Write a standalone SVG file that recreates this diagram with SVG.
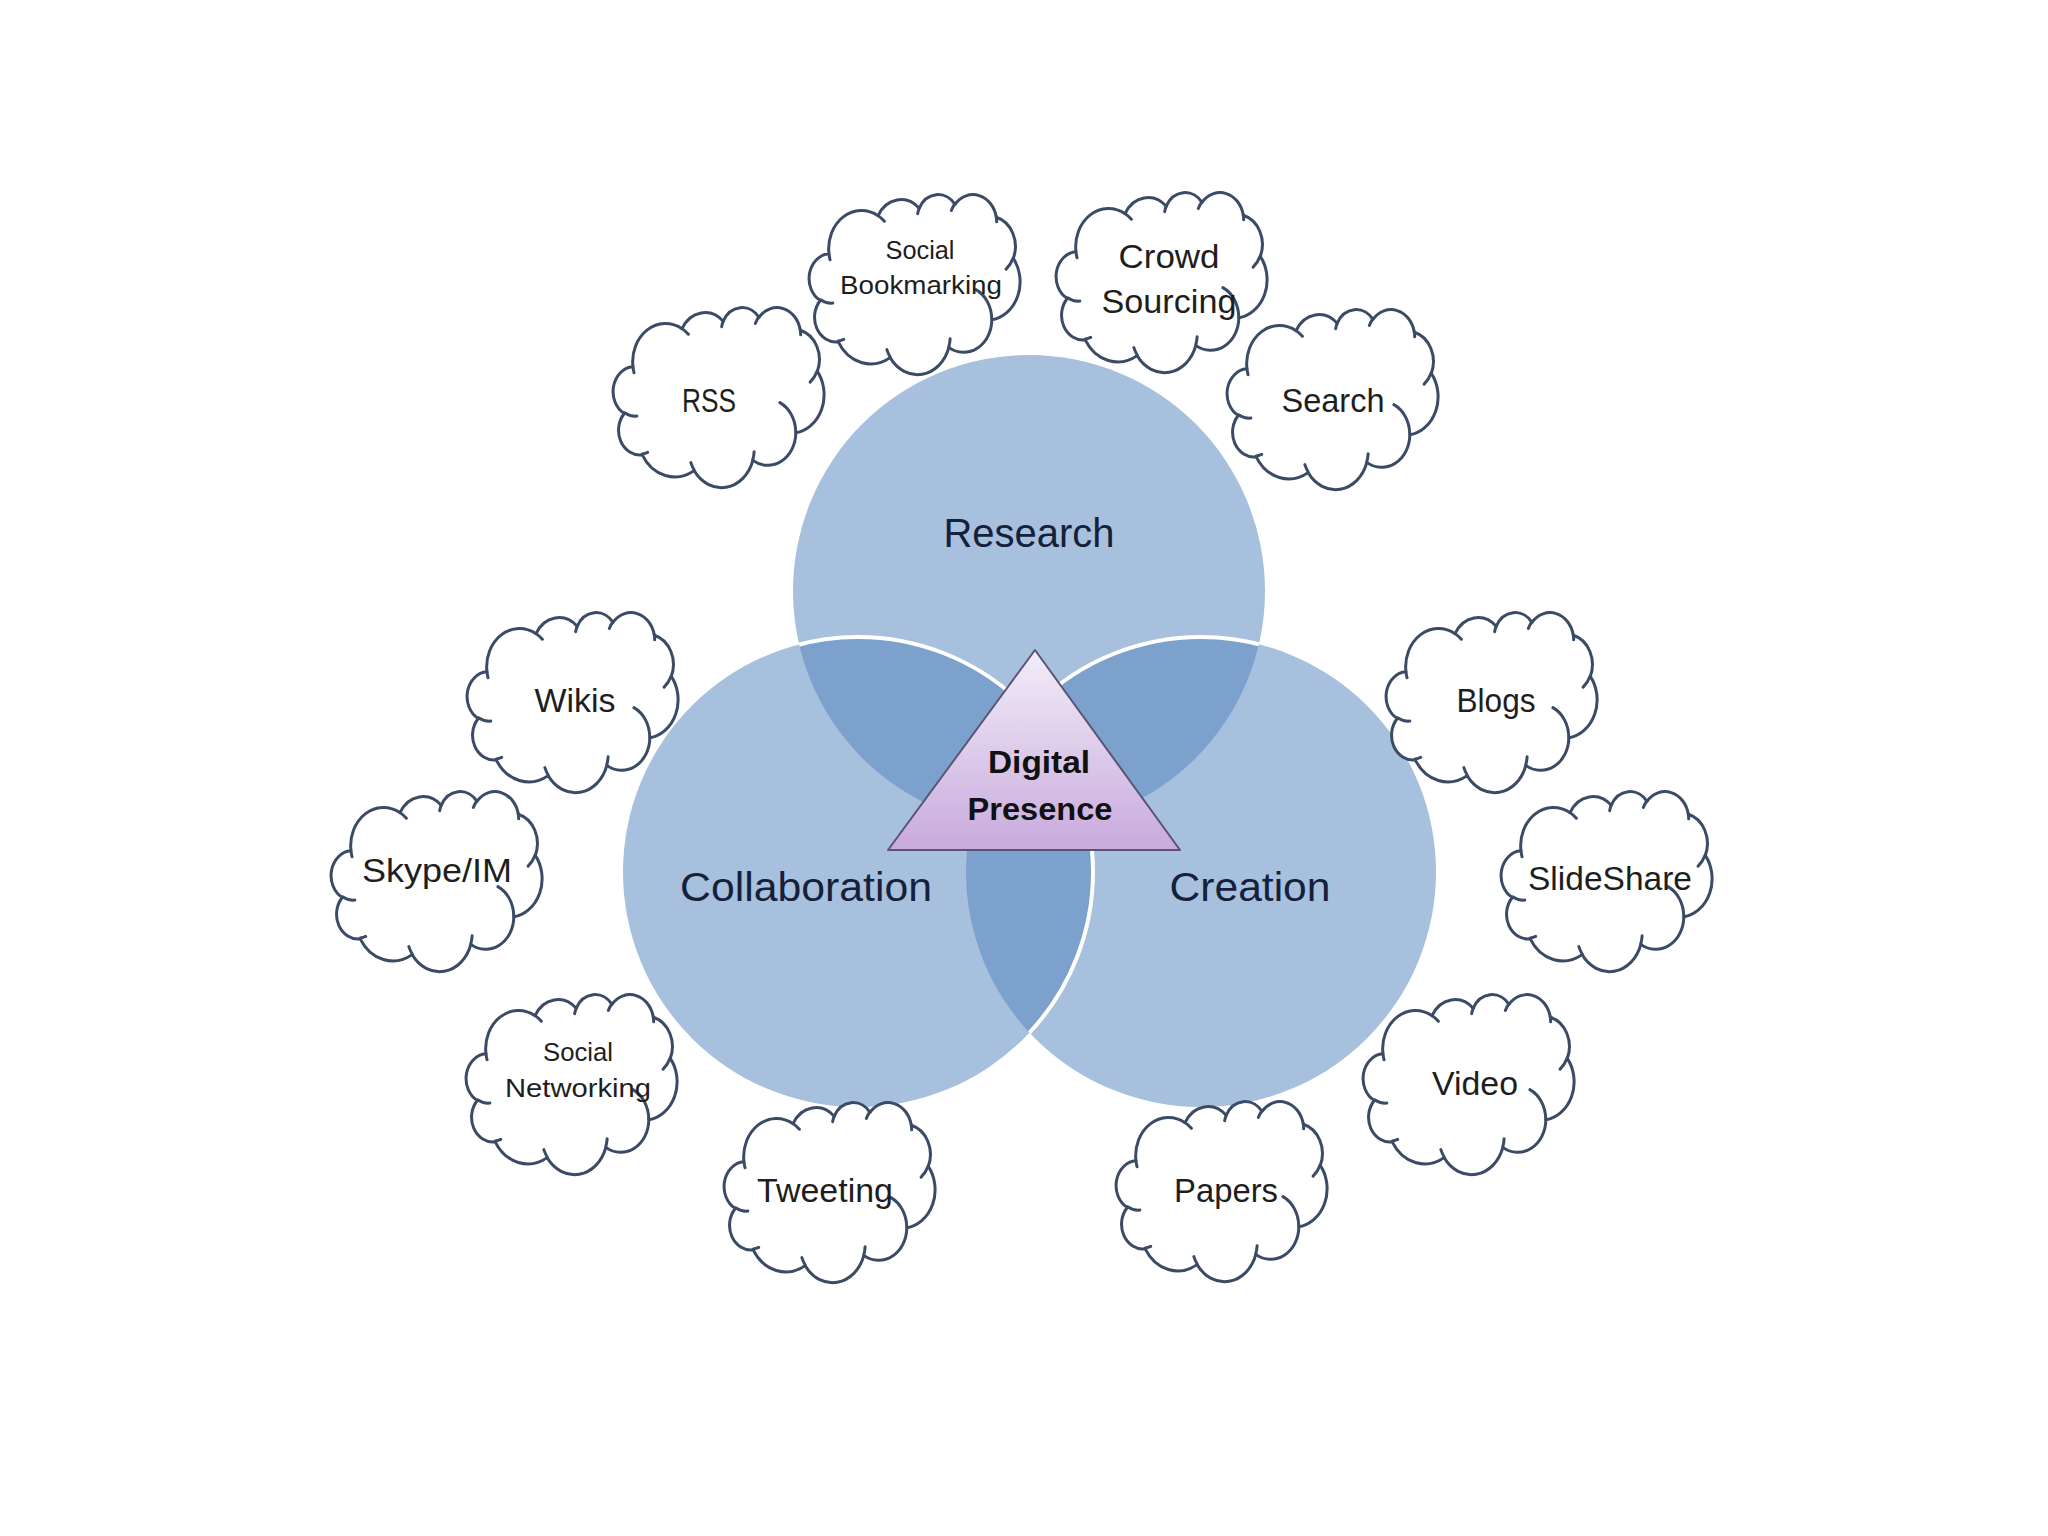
<svg xmlns="http://www.w3.org/2000/svg" xmlns:xlink="http://www.w3.org/1999/xlink" width="2048" height="1536" viewBox="0 0 2048 1536">
  <style>
    .circ { fill: #A7C0DE; }
    .lens { fill: #7DA1CD; }
    .edge { fill: none; stroke: #FFFFFF; stroke-width: 4; }
    .cloud { fill: #FFFFFF; stroke: #3B4B66; stroke-width: 3; stroke-linejoin: round; }
    .hook { fill: none; stroke: #3B4B66; stroke-width: 3; stroke-linecap: round; }
    .big { font-family: "Liberation Sans", Arial, sans-serif; font-size: 40px; fill: #15213A; text-anchor: middle; }
    .lbl { font-family: "Liberation Sans", Arial, sans-serif; font-size: 33px; fill: #1E1E1E; text-anchor: middle; }
    .sml { font-family: "Liberation Sans", Arial, sans-serif; font-size: 26px; fill: #1E1E1E; text-anchor: middle; }
    .core { font-family: "Liberation Sans", Arial, sans-serif; font-size: 32px; font-weight: bold; fill: #111111; text-anchor: middle; }
  </style>
  <defs>
    <linearGradient id="triGrad" x1="0" y1="0" x2="0" y2="1">
      <stop offset="0" stop-color="#F3EDF8"/>
      <stop offset="1" stop-color="#C8AADD"/>
    </linearGradient>
    <clipPath id="clipResearch"><circle cx="1029" cy="591" r="236"/></clipPath>
    <clipPath id="clipCollab"><circle cx="858" cy="872" r="235"/></clipPath>
    <clipPath id="clipCreation"><circle cx="1201" cy="872" r="235"/></clipPath>
    <path id="cloudShape" class="cloud" d="M-86.04,-30.13 A32.83,38.29 0 0 1 -36.92,-68.32 A25.92,30.28 0 0 1 4.16,-75.69 A21.22,24.77 0 0 1 40.03,-79.66 A23.61,27.48 0 0 1 81.28,-66.76 A25.92,30.30 0 0 1 98.29,-25.58 A32.93,38.42 0 0 1 76.83,35.85 A28.12,32.78 0 0 1 33.82,63.39 A32.82,38.40 0 0 1 -24.88,73.61 A37.53,43.93 0 0 1 -76.78,57.80 A21.19,24.66 0 0 1 -94.73,16.46 A21.12,24.77 0 0 1 -86.04,-30.13 Z"/>
    <path id="cloudHooks" class="hook" d="M-82.19,19.07 A21.12,24.77 0 0 1 -94.50,15.75 M-71.32,55.41 A21.19,24.66 0 0 1 -76.71,57.00 M-24.90,72.88 A32.82,38.40 0 0 1 -28.15,65.62 M35.13,54.80 A32.82,38.40 0 0 1 33.83,62.75 M60.90,5.64 A28.12,32.78 0 0 1 76.71,35.37 M98.18,-26.02 A25.92,30.30 0 0 1 91.14,-14.87 M81.29,-67.39 A23.61,27.48 0 0 1 81.67,-62.13 M36.35,-73.53 A23.61,27.48 0 0 1 39.96,-80.25 M2.63,-70.33 A21.22,24.77 0 0 1 4.37,-76.12 M-36.94,-68.37 A32.83,38.29 0 0 1 -30.63,-62.75 M-84.94,-24.21 A32.83,38.29 0 0 1 -86.04,-30.13"/>
    <g id="cloud">
      <use xlink:href="#cloudShape" href="#cloudShape"/>
      <use xlink:href="#cloudHooks" href="#cloudHooks"/>
    </g>
  </defs>

  <rect x="0" y="0" width="2048" height="1536" fill="#FFFFFF"/>

  <g id="venn">
    <circle id="research-circle" class="circ" cx="1029" cy="591" r="236"/>
    <circle id="collaboration-circle" class="circ" cx="858" cy="872" r="235"/>
    <circle id="creation-circle" class="circ" cx="1201" cy="872" r="235"/>
    <circle class="lens" cx="858" cy="872" r="235" clip-path="url(#clipResearch)"/>
    <circle class="lens" cx="1201" cy="872" r="235" clip-path="url(#clipResearch)"/>
    <circle class="lens" cx="1201" cy="872" r="235" clip-path="url(#clipCollab)"/>
    <circle class="edge" cx="858" cy="872" r="235" clip-path="url(#clipResearch)"/>
    <circle class="edge" cx="1201" cy="872" r="235" clip-path="url(#clipResearch)"/>
    <circle class="edge" cx="858" cy="872" r="235" clip-path="url(#clipCreation)"/>
  </g>

  <g id="node-research"><text class="big" x="1029" y="547" textLength="171" lengthAdjust="spacingAndGlyphs">Research</text></g>
  <g id="node-collaboration"><text class="big" x="806" y="901" textLength="252" lengthAdjust="spacingAndGlyphs">Collaboration</text></g>
  <g id="node-creation"><text class="big" x="1250" y="901" textLength="161" lengthAdjust="spacingAndGlyphs">Creation</text></g>

  <g id="node-digital-presence">
    <polygon points="1035,650 888,850 1180,850" fill="url(#triGrad)" stroke="#5B5475" stroke-width="2" stroke-linejoin="round"/>
    <text class="core" x="1039" y="773" textLength="102" lengthAdjust="spacingAndGlyphs">Digital</text>
    <text class="core" x="1040" y="820" textLength="145" lengthAdjust="spacingAndGlyphs">Presence</text>
  </g>

  <g id="connectors"></g>

  <g id="node-social-bookmarking">
    <use xlink:href="#cloud" href="#cloud" transform="translate(915,284)"/>
    <text class="sml" x="920" y="259" textLength="69" lengthAdjust="spacingAndGlyphs">Social</text>
    <text class="sml" x="921" y="294" textLength="162" lengthAdjust="spacingAndGlyphs">Bookmarking</text>
  </g>
  <g id="node-crowd-sourcing">
    <use xlink:href="#cloud" href="#cloud" transform="translate(1162,282)"/>
    <text class="lbl" x="1169" y="268" textLength="101" lengthAdjust="spacingAndGlyphs">Crowd</text>
    <text class="lbl" x="1169" y="313" textLength="135" lengthAdjust="spacingAndGlyphs">Sourcing</text>
  </g>
  <g id="node-rss">
    <use xlink:href="#cloud" href="#cloud" transform="translate(719,397)"/>
    <text class="lbl" x="709" y="412" textLength="54" lengthAdjust="spacingAndGlyphs">RSS</text>
  </g>
  <g id="node-search">
    <use xlink:href="#cloud" href="#cloud" transform="translate(1333,399)"/>
    <text class="lbl" x="1333" y="412" textLength="103" lengthAdjust="spacingAndGlyphs">Search</text>
  </g>
  <g id="node-wikis">
    <use xlink:href="#cloud" href="#cloud" transform="translate(573,702)"/>
    <text class="lbl" x="575" y="712" textLength="81" lengthAdjust="spacingAndGlyphs">Wikis</text>
  </g>
  <g id="node-blogs">
    <use xlink:href="#cloud" href="#cloud" transform="translate(1492,702)"/>
    <text class="lbl" x="1496" y="712" textLength="79" lengthAdjust="spacingAndGlyphs">Blogs</text>
  </g>
  <g id="node-skype-im">
    <use xlink:href="#cloud" href="#cloud" transform="translate(437,881)"/>
    <text class="lbl" x="437" y="882" textLength="150" lengthAdjust="spacingAndGlyphs">Skype/IM</text>
  </g>
  <g id="node-slideshare">
    <use xlink:href="#cloud" href="#cloud" transform="translate(1607,881)"/>
    <text class="lbl" x="1610" y="890" textLength="164" lengthAdjust="spacingAndGlyphs">SlideShare</text>
  </g>
  <g id="node-social-networking">
    <use xlink:href="#cloud" href="#cloud" transform="translate(572,1084)"/>
    <text class="sml" x="578" y="1061" textLength="70" lengthAdjust="spacingAndGlyphs">Social</text>
    <text class="sml" x="578" y="1097" textLength="146" lengthAdjust="spacingAndGlyphs">Networking</text>
  </g>
  <g id="node-video">
    <use xlink:href="#cloud" href="#cloud" transform="translate(1469,1084)"/>
    <text class="lbl" x="1475" y="1095" textLength="86" lengthAdjust="spacingAndGlyphs">Video</text>
  </g>
  <g id="node-tweeting">
    <use xlink:href="#cloud" href="#cloud" transform="translate(830,1192)"/>
    <text class="lbl" x="825" y="1202" textLength="136" lengthAdjust="spacingAndGlyphs">Tweeting</text>
  </g>
  <g id="node-papers">
    <use xlink:href="#cloud" href="#cloud" transform="translate(1222,1191)"/>
    <text class="lbl" x="1226" y="1202" textLength="104" lengthAdjust="spacingAndGlyphs">Papers</text>
  </g>
</svg>
